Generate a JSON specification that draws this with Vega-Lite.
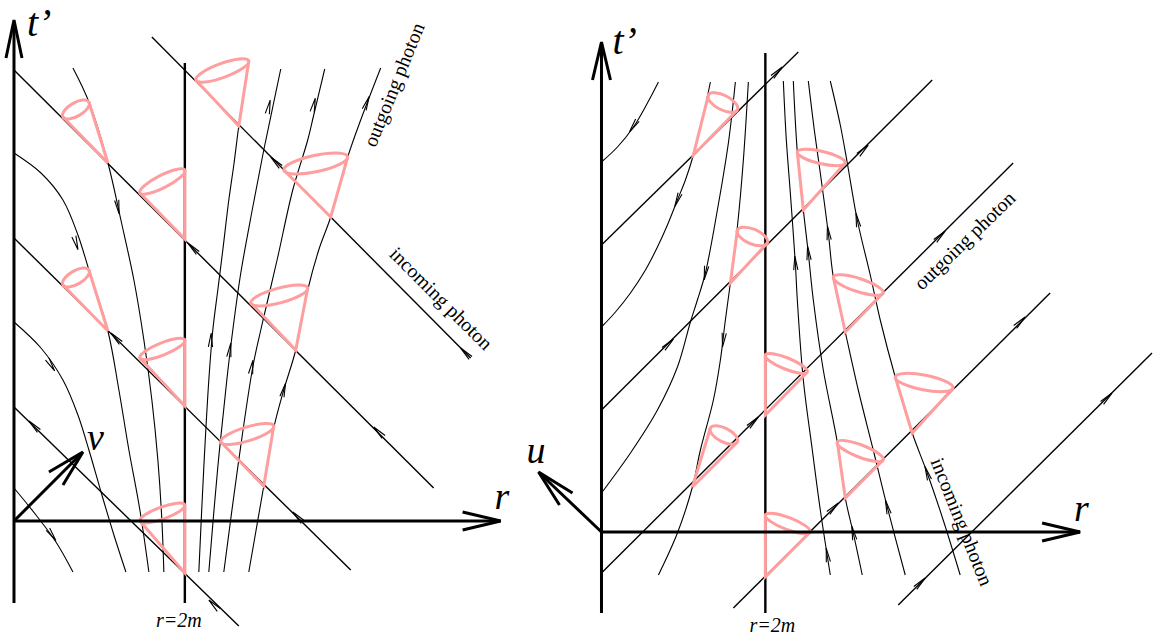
{
  "$schema": "https://vega.github.io/schema/vega-lite/v6.json",
  "width": 1172,
  "height": 638,
  "autosize": {"type": "fit", "contains": "padding"},
  "padding": 0,
  "background": "white",
  "config": {"view": {"stroke": null}},
  "datasets": {
    "horizon": [
      {"id": "L", "i": 0, "x": 184, "y": 63}, {"id": "L", "i": 1, "x": 184, "y": 603},
      {"id": "R", "i": 0, "x": 765, "y": 53}, {"id": "R", "i": 1, "x": 765, "y": 613}
    ],
    "axes": [
      {"id": "Lt", "i": 0, "x": 13, "y": 603}, {"id": "Lt", "i": 1, "x": 13, "y": 22},
      {"id": "Lth", "i": 0, "x": 5, "y": 58}, {"id": "Lth", "i": 1, "x": 13, "y": 20}, {"id": "Lth", "i": 2, "x": 21, "y": 58},
      {"id": "Lr", "i": 0, "x": 13, "y": 521}, {"id": "Lr", "i": 1, "x": 500, "y": 521},
      {"id": "Lrh", "i": 0, "x": 462, "y": 512}, {"id": "Lrh", "i": 1, "x": 500, "y": 521}, {"id": "Lrh", "i": 2, "x": 462, "y": 530},
      {"id": "Lv", "i": 0, "x": 13, "y": 521}, {"id": "Lv", "i": 1, "x": 81, "y": 453},
      {"id": "Lvh", "i": 0, "x": 48, "y": 472}, {"id": "Lvh", "i": 1, "x": 82, "y": 452}, {"id": "Lvh", "i": 2, "x": 62, "y": 485},
      {"id": "Rt", "i": 0, "x": 601, "y": 613}, {"id": "Rt", "i": 1, "x": 601, "y": 44},
      {"id": "Rth", "i": 0, "x": 592, "y": 80}, {"id": "Rth", "i": 1, "x": 601, "y": 42}, {"id": "Rth", "i": 2, "x": 610, "y": 80},
      {"id": "Rr", "i": 0, "x": 601, "y": 532}, {"id": "Rr", "i": 1, "x": 1080, "y": 532},
      {"id": "Rrh", "i": 0, "x": 1042, "y": 523}, {"id": "Rrh", "i": 1, "x": 1080, "y": 532}, {"id": "Rrh", "i": 2, "x": 1042, "y": 541},
      {"id": "Ru", "i": 0, "x": 601, "y": 532}, {"id": "Ru", "i": 1, "x": 539, "y": 473},
      {"id": "Ruh", "i": 0, "x": 572, "y": 493}, {"id": "Ruh", "i": 1, "x": 538, "y": 472}, {"id": "Ruh", "i": 2, "x": 559, "y": 505}
    ],
    "photons": [
      {"id": "S1", "i": 0, "x": 151, "y": 37}, {"id": "S1", "i": 1, "x": 470, "y": 358},
      {"id": "S2", "i": 0, "x": 13, "y": 70}, {"id": "S2", "i": 1, "x": 433, "y": 488},
      {"id": "S3", "i": 0, "x": 13, "y": 238}, {"id": "S3", "i": 1, "x": 350, "y": 570},
      {"id": "S4", "i": 0, "x": 13, "y": 407}, {"id": "S4", "i": 1, "x": 238, "y": 626},
      {"id": "A", "i": 0, "x": 601, "y": 245}, {"id": "A", "i": 1, "x": 798, "y": 52},
      {"id": "B", "i": 0, "x": 601, "y": 410}, {"id": "B", "i": 1, "x": 932, "y": 80},
      {"id": "C", "i": 0, "x": 601, "y": 573}, {"id": "C", "i": 1, "x": 1013, "y": 163},
      {"id": "D", "i": 0, "x": 733, "y": 608}, {"id": "D", "i": 1, "x": 1050, "y": 293},
      {"id": "E", "i": 0, "x": 898, "y": 605}, {"id": "E", "i": 1, "x": 1152, "y": 353}
    ],
    "curves": [
      {"id": "T", "i": 0, "x": 72, "y": 68}, {"id": "T", "i": 1, "x": 88, "y": 102}, {"id": "T", "i": 2, "x": 107, "y": 163}, {"id": "T", "i": 3, "x": 120, "y": 220}, {"id": "T", "i": 4, "x": 133, "y": 280}, {"id": "T", "i": 5, "x": 143, "y": 340}, {"id": "T", "i": 6, "x": 151, "y": 400}, {"id": "T", "i": 7, "x": 157, "y": 460}, {"id": "T", "i": 8, "x": 161, "y": 520}, {"id": "T", "i": 9, "x": 163, "y": 572},
      {"id": "C1", "i": 0, "x": 13, "y": 153}, {"id": "C1", "i": 1, "x": 40, "y": 173}, {"id": "C1", "i": 2, "x": 62, "y": 200}, {"id": "C1", "i": 3, "x": 77, "y": 235}, {"id": "C1", "i": 4, "x": 88, "y": 270}, {"id": "C1", "i": 5, "x": 107, "y": 331}, {"id": "C1", "i": 6, "x": 118, "y": 390}, {"id": "C1", "i": 7, "x": 128, "y": 450}, {"id": "C1", "i": 8, "x": 139, "y": 510}, {"id": "C1", "i": 9, "x": 148, "y": 572},
      {"id": "C2", "i": 0, "x": 13, "y": 322}, {"id": "C2", "i": 1, "x": 40, "y": 348}, {"id": "C2", "i": 2, "x": 62, "y": 380}, {"id": "C2", "i": 3, "x": 77, "y": 415}, {"id": "C2", "i": 4, "x": 88, "y": 450}, {"id": "C2", "i": 5, "x": 101, "y": 495}, {"id": "C2", "i": 6, "x": 113, "y": 535}, {"id": "C2", "i": 7, "x": 125, "y": 572},
      {"id": "C3", "i": 0, "x": 13, "y": 488}, {"id": "C3", "i": 1, "x": 35, "y": 515}, {"id": "C3", "i": 2, "x": 55, "y": 542}, {"id": "C3", "i": 3, "x": 72, "y": 572},
      {"id": "a", "i": 0, "x": 198, "y": 572}, {"id": "a", "i": 1, "x": 203, "y": 467}, {"id": "a", "i": 2, "x": 208, "y": 380}, {"id": "a", "i": 3, "x": 212, "y": 330}, {"id": "a", "i": 4, "x": 217, "y": 290}, {"id": "a", "i": 5, "x": 222, "y": 250}, {"id": "a", "i": 6, "x": 228, "y": 200}, {"id": "a", "i": 7, "x": 233, "y": 165}, {"id": "a", "i": 8, "x": 238, "y": 126}, {"id": "a", "i": 9, "x": 243, "y": 93}, {"id": "a", "i": 10, "x": 247, "y": 66},
      {"id": "b", "i": 0, "x": 208, "y": 572}, {"id": "b", "i": 1, "x": 217, "y": 467}, {"id": "b", "i": 2, "x": 226, "y": 380}, {"id": "b", "i": 3, "x": 232, "y": 330}, {"id": "b", "i": 4, "x": 240, "y": 273}, {"id": "b", "i": 5, "x": 252, "y": 207}, {"id": "b", "i": 6, "x": 263, "y": 150}, {"id": "b", "i": 7, "x": 272, "y": 107}, {"id": "b", "i": 8, "x": 280, "y": 69},
      {"id": "c", "i": 0, "x": 223, "y": 572}, {"id": "c", "i": 1, "x": 237, "y": 467}, {"id": "c", "i": 2, "x": 252, "y": 367}, {"id": "c", "i": 3, "x": 260, "y": 330}, {"id": "c", "i": 4, "x": 267, "y": 300}, {"id": "c", "i": 5, "x": 277, "y": 257}, {"id": "c", "i": 6, "x": 292, "y": 190}, {"id": "c", "i": 7, "x": 307, "y": 140}, {"id": "c", "i": 8, "x": 313, "y": 115}, {"id": "c", "i": 9, "x": 324, "y": 69},
      {"id": "d", "i": 0, "x": 248, "y": 572}, {"id": "d", "i": 1, "x": 263, "y": 486}, {"id": "d", "i": 2, "x": 273, "y": 428}, {"id": "d", "i": 3, "x": 283, "y": 390}, {"id": "d", "i": 4, "x": 295, "y": 350}, {"id": "d", "i": 5, "x": 307, "y": 290}, {"id": "d", "i": 6, "x": 318, "y": 250}, {"id": "d", "i": 7, "x": 330, "y": 217}, {"id": "d", "i": 8, "x": 347, "y": 157}, {"id": "d", "i": 9, "x": 360, "y": 120}, {"id": "d", "i": 10, "x": 380, "y": 68},
      {"id": "I1", "i": 0, "x": 658, "y": 82}, {"id": "I1", "i": 1, "x": 647, "y": 103}, {"id": "I1", "i": 2, "x": 633, "y": 127}, {"id": "I1", "i": 3, "x": 617, "y": 147}, {"id": "I1", "i": 4, "x": 601, "y": 162},
      {"id": "I2", "i": 0, "x": 710, "y": 82}, {"id": "I2", "i": 1, "x": 703, "y": 115}, {"id": "I2", "i": 2, "x": 693, "y": 155}, {"id": "I2", "i": 3, "x": 685, "y": 180}, {"id": "I2", "i": 4, "x": 677, "y": 200}, {"id": "I2", "i": 5, "x": 667, "y": 225}, {"id": "I2", "i": 6, "x": 657, "y": 247}, {"id": "I2", "i": 7, "x": 645, "y": 270}, {"id": "I2", "i": 8, "x": 630, "y": 293}, {"id": "I2", "i": 9, "x": 615, "y": 312}, {"id": "I2", "i": 10, "x": 601, "y": 327},
      {"id": "I3", "i": 0, "x": 735, "y": 82}, {"id": "I3", "i": 1, "x": 728, "y": 143}, {"id": "I3", "i": 2, "x": 717, "y": 210}, {"id": "I3", "i": 3, "x": 705, "y": 273}, {"id": "I3", "i": 4, "x": 697, "y": 300}, {"id": "I3", "i": 5, "x": 690, "y": 322}, {"id": "I3", "i": 6, "x": 677, "y": 367}, {"id": "I3", "i": 7, "x": 657, "y": 410}, {"id": "I3", "i": 8, "x": 630, "y": 453}, {"id": "I3", "i": 9, "x": 601, "y": 493},
      {"id": "I4", "i": 0, "x": 748, "y": 82}, {"id": "I4", "i": 1, "x": 743, "y": 160}, {"id": "I4", "i": 2, "x": 737, "y": 227}, {"id": "I4", "i": 3, "x": 730, "y": 283}, {"id": "I4", "i": 4, "x": 725, "y": 320}, {"id": "I4", "i": 5, "x": 720, "y": 360}, {"id": "I4", "i": 6, "x": 713, "y": 400}, {"id": "I4", "i": 7, "x": 700, "y": 450}, {"id": "I4", "i": 8, "x": 692, "y": 487}, {"id": "I4", "i": 9, "x": 677, "y": 533}, {"id": "I4", "i": 10, "x": 658, "y": 575},
      {"id": "O1", "i": 0, "x": 783, "y": 81}, {"id": "O1", "i": 1, "x": 786, "y": 140}, {"id": "O1", "i": 2, "x": 790, "y": 193}, {"id": "O1", "i": 3, "x": 795, "y": 263}, {"id": "O1", "i": 4, "x": 797, "y": 300}, {"id": "O1", "i": 5, "x": 803, "y": 380}, {"id": "O1", "i": 6, "x": 812, "y": 450}, {"id": "O1", "i": 7, "x": 820, "y": 510}, {"id": "O1", "i": 8, "x": 830, "y": 575},
      {"id": "O2", "i": 0, "x": 793, "y": 81}, {"id": "O2", "i": 1, "x": 797, "y": 152}, {"id": "O2", "i": 2, "x": 803, "y": 210}, {"id": "O2", "i": 3, "x": 808, "y": 253}, {"id": "O2", "i": 4, "x": 813, "y": 300}, {"id": "O2", "i": 5, "x": 823, "y": 370}, {"id": "O2", "i": 6, "x": 837, "y": 442}, {"id": "O2", "i": 7, "x": 845, "y": 498}, {"id": "O2", "i": 8, "x": 853, "y": 533}, {"id": "O2", "i": 9, "x": 862, "y": 575},
      {"id": "O3", "i": 0, "x": 808, "y": 81}, {"id": "O3", "i": 1, "x": 814, "y": 130}, {"id": "O3", "i": 2, "x": 820, "y": 173}, {"id": "O3", "i": 3, "x": 828, "y": 233}, {"id": "O3", "i": 4, "x": 833, "y": 277}, {"id": "O3", "i": 5, "x": 845, "y": 332}, {"id": "O3", "i": 6, "x": 858, "y": 390}, {"id": "O3", "i": 7, "x": 873, "y": 450}, {"id": "O3", "i": 8, "x": 887, "y": 507}, {"id": "O3", "i": 9, "x": 905, "y": 575},
      {"id": "O4", "i": 0, "x": 830, "y": 81}, {"id": "O4", "i": 1, "x": 840, "y": 125}, {"id": "O4", "i": 2, "x": 847, "y": 163}, {"id": "O4", "i": 3, "x": 857, "y": 220}, {"id": "O4", "i": 4, "x": 870, "y": 275}, {"id": "O4", "i": 5, "x": 880, "y": 320}, {"id": "O4", "i": 6, "x": 895, "y": 377}, {"id": "O4", "i": 7, "x": 912, "y": 433}, {"id": "O4", "i": 8, "x": 927, "y": 473}, {"id": "O4", "i": 9, "x": 943, "y": 520}, {"id": "O4", "i": 10, "x": 960, "y": 575}
    ],
    "arrows": [
      {"x": 275, "y": 162, "dir": 315}, {"x": 465, "y": 353, "dir": 315},
      {"x": 192, "y": 248, "dir": 315}, {"x": 378, "y": 432, "dir": 315},
      {"x": 115, "y": 338, "dir": 315}, {"x": 297, "y": 517, "dir": 315},
      {"x": 33, "y": 426, "dir": 315}, {"x": 213, "y": 605, "dir": 315},
      {"x": 75, "y": 243, "dir": 163}, {"x": 117, "y": 207, "dir": 170}, {"x": 50, "y": 365, "dir": 148}, {"x": 51, "y": 535, "dir": 145},
      {"x": 210, "y": 340, "dir": 3}, {"x": 229, "y": 350, "dir": 8}, {"x": 268, "y": 107, "dir": 12},
      {"x": 251, "y": 367, "dir": 10}, {"x": 313, "y": 105, "dir": 13}, {"x": 283, "y": 390, "dir": 15}, {"x": 366, "y": 103, "dir": 21},
      {"x": 777, "y": 72, "dir": 45}, {"x": 668, "y": 344, "dir": 45}, {"x": 863, "y": 150, "dir": 45},
      {"x": 753, "y": 422, "dir": 45}, {"x": 940, "y": 236, "dir": 45}, {"x": 833, "y": 508, "dir": 45}, {"x": 1020, "y": 322, "dir": 45},
      {"x": 920, "y": 583, "dir": 45}, {"x": 1107, "y": 398, "dir": 45},
      {"x": 633, "y": 126, "dir": 214}, {"x": 677, "y": 200, "dir": 202}, {"x": 705, "y": 273, "dir": 190}, {"x": 723, "y": 340, "dir": 187},
      {"x": 795, "y": 263, "dir": 356}, {"x": 827, "y": 555, "dir": 351}, {"x": 808, "y": 253, "dir": 354}, {"x": 853, "y": 533, "dir": 348},
      {"x": 828, "y": 233, "dir": 353}, {"x": 887, "y": 507, "dir": 345}, {"x": 857, "y": 220, "dir": 349}, {"x": 927, "y": 473, "dir": 341}
    ],
    "cones": [
      {"id": "L1", "i": 0, "x": 62, "y": 117}, {"id": "L1", "i": 1, "x": 107, "y": 163}, {"id": "L1", "i": 2, "x": 88, "y": 102},
      {"id": "L2", "i": 0, "x": 62, "y": 285}, {"id": "L2", "i": 1, "x": 107, "y": 331}, {"id": "L2", "i": 2, "x": 88, "y": 270},
      {"id": "L3", "i": 0, "x": 139, "y": 193}, {"id": "L3", "i": 1, "x": 184, "y": 239}, {"id": "L3", "i": 2, "x": 184, "y": 170},
      {"id": "L4", "i": 0, "x": 139, "y": 358}, {"id": "L4", "i": 1, "x": 184, "y": 406}, {"id": "L4", "i": 2, "x": 184, "y": 340},
      {"id": "L5", "i": 0, "x": 139, "y": 521}, {"id": "L5", "i": 1, "x": 184, "y": 573}, {"id": "L5", "i": 2, "x": 184, "y": 505},
      {"id": "L6", "i": 0, "x": 195, "y": 80}, {"id": "L6", "i": 1, "x": 238, "y": 126}, {"id": "L6", "i": 2, "x": 248, "y": 61},
      {"id": "L7", "i": 0, "x": 283, "y": 170}, {"id": "L7", "i": 1, "x": 330, "y": 217}, {"id": "L7", "i": 2, "x": 347, "y": 157},
      {"id": "L8", "i": 0, "x": 250, "y": 303}, {"id": "L8", "i": 1, "x": 295, "y": 350}, {"id": "L8", "i": 2, "x": 307, "y": 288},
      {"id": "L9", "i": 0, "x": 220, "y": 442}, {"id": "L9", "i": 1, "x": 263, "y": 486}, {"id": "L9", "i": 2, "x": 273, "y": 426},
      {"id": "R1", "i": 0, "x": 708, "y": 95}, {"id": "R1", "i": 1, "x": 693, "y": 155}, {"id": "R1", "i": 2, "x": 737, "y": 110},
      {"id": "R2", "i": 0, "x": 737, "y": 230}, {"id": "R2", "i": 1, "x": 730, "y": 283}, {"id": "R2", "i": 2, "x": 767, "y": 243},
      {"id": "R3", "i": 0, "x": 710, "y": 428}, {"id": "R3", "i": 1, "x": 692, "y": 487}, {"id": "R3", "i": 2, "x": 737, "y": 442},
      {"id": "R4", "i": 0, "x": 765, "y": 355}, {"id": "R4", "i": 1, "x": 765, "y": 415}, {"id": "R4", "i": 2, "x": 807, "y": 372},
      {"id": "R5", "i": 0, "x": 765, "y": 515}, {"id": "R5", "i": 1, "x": 765, "y": 577}, {"id": "R5", "i": 2, "x": 810, "y": 532},
      {"id": "R6", "i": 0, "x": 797, "y": 152}, {"id": "R6", "i": 1, "x": 803, "y": 210}, {"id": "R6", "i": 2, "x": 845, "y": 163},
      {"id": "R7", "i": 0, "x": 833, "y": 277}, {"id": "R7", "i": 1, "x": 845, "y": 332}, {"id": "R7", "i": 2, "x": 883, "y": 293},
      {"id": "R8", "i": 0, "x": 895, "y": 377}, {"id": "R8", "i": 1, "x": 912, "y": 433}, {"id": "R8", "i": 2, "x": 953, "y": 388},
      {"id": "R9", "i": 0, "x": 837, "y": 442}, {"id": "R9", "i": 1, "x": 845, "y": 498}, {"id": "R9", "i": 2, "x": 883, "y": 460}
    ],
    "rims": [
      {"id": "L1", "x": 75, "y": 109.5, "w": 30, "tilt": 330},
      {"id": "L2", "x": 75, "y": 277.5, "w": 30, "tilt": 330},
      {"id": "L3", "x": 161.5, "y": 181.5, "w": 50.5, "tilt": 333},
      {"id": "L4", "x": 161.5, "y": 349, "w": 48.5, "tilt": 338},
      {"id": "L5", "x": 161.5, "y": 513, "w": 47.8, "tilt": 340},
      {"id": "L6", "x": 221.5, "y": 70.5, "w": 56.3, "tilt": 340},
      {"id": "L7", "x": 315, "y": 163.5, "w": 65.3, "tilt": 348},
      {"id": "L8", "x": 278.5, "y": 295.5, "w": 59, "tilt": 345},
      {"id": "L9", "x": 246.5, "y": 434, "w": 55.4, "tilt": 343},
      {"id": "R1", "x": 722.5, "y": 102.5, "w": 32.6, "tilt": 27},
      {"id": "R2", "x": 752, "y": 236.5, "w": 32.7, "tilt": 23},
      {"id": "R3", "x": 723.5, "y": 435, "w": 30.4, "tilt": 27},
      {"id": "R4", "x": 786, "y": 363.5, "w": 45.3, "tilt": 22},
      {"id": "R5", "x": 787.5, "y": 523.5, "w": 48.1, "tilt": 21},
      {"id": "R6", "x": 821, "y": 157.5, "w": 49.2, "tilt": 13},
      {"id": "R7", "x": 858, "y": 285, "w": 52.5, "tilt": 18},
      {"id": "R8", "x": 924, "y": 382.5, "w": 59, "tilt": 11},
      {"id": "R9", "x": 860, "y": 451, "w": 49.4, "tilt": 21}
    ],
    "tLabels": [
      {"x": 26, "y": 36, "text": "t’"},
      {"x": 612, "y": 54, "text": "t’"}
    ],
    "bigLabels": [
      {"x": 494, "y": 509, "text": "r"},
      {"x": 1074, "y": 521, "text": "r"},
      {"x": 86, "y": 450, "text": "v"},
      {"x": 526, "y": 463, "text": "u"}
    ],
    "smallLabels": [
      {"x": 178, "y": 627, "text": "r=2m"},
      {"x": 772, "y": 632, "text": "r=2m"}
    ],
    "photonLabels": [
      {"x": 394, "y": 85, "text": "outgoing photon", "dir": 292},
      {"x": 440, "y": 299, "text": "incoming photon", "dir": 45},
      {"x": 965, "y": 241, "text": "outgoing photon", "dir": 316},
      {"x": 961, "y": 522, "text": "incoming photon", "dir": 68}
    ]
  },
  "encoding": {
    "x": {"field": "x", "type": "quantitative", "scale": {"domain": [0, 1172], "nice": false, "zero": false}, "axis": null},
    "y": {"field": "y", "type": "quantitative", "scale": {"domain": [0, 638], "reverse": true, "nice": false, "zero": false}, "axis": null}
  },
  "layer": [
    {
      "data": {"name": "horizon"},
      "mark": {"type": "line", "color": "black", "strokeWidth": 2.4},
      "encoding": {"detail": {"field": "id", "type": "nominal"}, "order": {"field": "i", "type": "quantitative"}}
    },
    {
      "data": {"name": "photons"},
      "mark": {"type": "line", "color": "black", "strokeWidth": 1.4},
      "encoding": {"detail": {"field": "id", "type": "nominal"}, "order": {"field": "i", "type": "quantitative"}}
    },
    {
      "data": {"name": "curves"},
      "mark": {"type": "line", "color": "black", "strokeWidth": 1.1, "interpolate": "catmull-rom"},
      "encoding": {"detail": {"field": "id", "type": "nominal"}, "order": {"field": "i", "type": "quantitative"}}
    },
    {
      "data": {"name": "arrows"},
      "mark": {"type": "point", "shape": "M-0.3,1L0,-1L0.3,1", "filled": false, "stroke": "black", "strokeWidth": 1.1, "size": 196, "opacity": 1},
      "encoding": {"angle": {"field": "dir", "type": "quantitative", "scale": null}}
    },
    {
      "data": {"name": "cones"},
      "mark": {"type": "line", "color": "#ff9e9e", "strokeWidth": 3, "strokeJoin": "miter"},
      "encoding": {"detail": {"field": "id", "type": "nominal"}, "order": {"field": "i", "type": "quantitative"}}
    },
    {
      "data": {"name": "rims"},
      "transform": [{"filter": "datum.w >= 40"}],
      "mark": {"type": "point", "shape": "M-1,0C-1,-0.138,-0.5523,-0.25,0,-0.25C0.5523,-0.25,1,-0.138,1,0C1,0.138,0.5523,0.25,0,0.25C-0.5523,0.25,-1,0.138,-1,0Z", "filled": false, "stroke": "#ff9e9e", "strokeWidth": 3, "opacity": 1},
      "encoding": {
        "size": {"field": "w", "type": "quantitative", "scale": {"type": "pow", "exponent": 2, "domain": [0, 100], "range": [0, 10000]}, "legend": null},
        "angle": {"field": "tilt", "type": "quantitative", "scale": null}
      }
    },
    {
      "data": {"name": "rims"},
      "transform": [{"filter": "datum.w < 40"}],
      "mark": {"type": "point", "shape": "M-1,0C-1,-0.2485,-0.5523,-0.45,0,-0.45C0.5523,-0.45,1,-0.2485,1,0C1,0.2485,0.5523,0.45,0,0.45C-0.5523,0.45,-1,0.2485,-1,0Z", "filled": false, "stroke": "#ff9e9e", "strokeWidth": 3, "opacity": 1},
      "encoding": {
        "size": {"field": "w", "type": "quantitative", "scale": {"type": "pow", "exponent": 2, "domain": [0, 100], "range": [0, 10000]}, "legend": null},
        "angle": {"field": "tilt", "type": "quantitative", "scale": null}
      }
    },
    {
      "data": {"name": "axes"},
      "mark": {"type": "line", "color": "black", "strokeWidth": 3, "strokeJoin": "miter"},
      "encoding": {"detail": {"field": "id", "type": "nominal"}, "order": {"field": "i", "type": "quantitative"}}
    },
    {
      "data": {"name": "tLabels"},
      "mark": {"type": "text", "font": "Liberation Serif", "fontStyle": "italic", "fontSize": 40, "align": "left", "baseline": "alphabetic", "color": "black"},
      "encoding": {"text": {"field": "text", "type": "nominal"}}
    },
    {
      "data": {"name": "bigLabels"},
      "mark": {"type": "text", "font": "Liberation Serif", "fontStyle": "italic", "fontSize": 38, "align": "left", "baseline": "alphabetic", "color": "black"},
      "encoding": {"text": {"field": "text", "type": "nominal"}}
    },
    {
      "data": {"name": "smallLabels"},
      "mark": {"type": "text", "font": "Liberation Serif", "fontStyle": "italic", "fontSize": 20, "align": "center", "baseline": "alphabetic", "color": "black"},
      "encoding": {"text": {"field": "text", "type": "nominal"}}
    },
    {
      "data": {"name": "photonLabels"},
      "mark": {"type": "text", "font": "Liberation Serif", "fontSize": 20, "align": "center", "baseline": "middle", "color": "black"},
      "encoding": {"text": {"field": "text", "type": "nominal"}, "angle": {"field": "dir", "type": "quantitative", "scale": null}}
    }
  ]
}
